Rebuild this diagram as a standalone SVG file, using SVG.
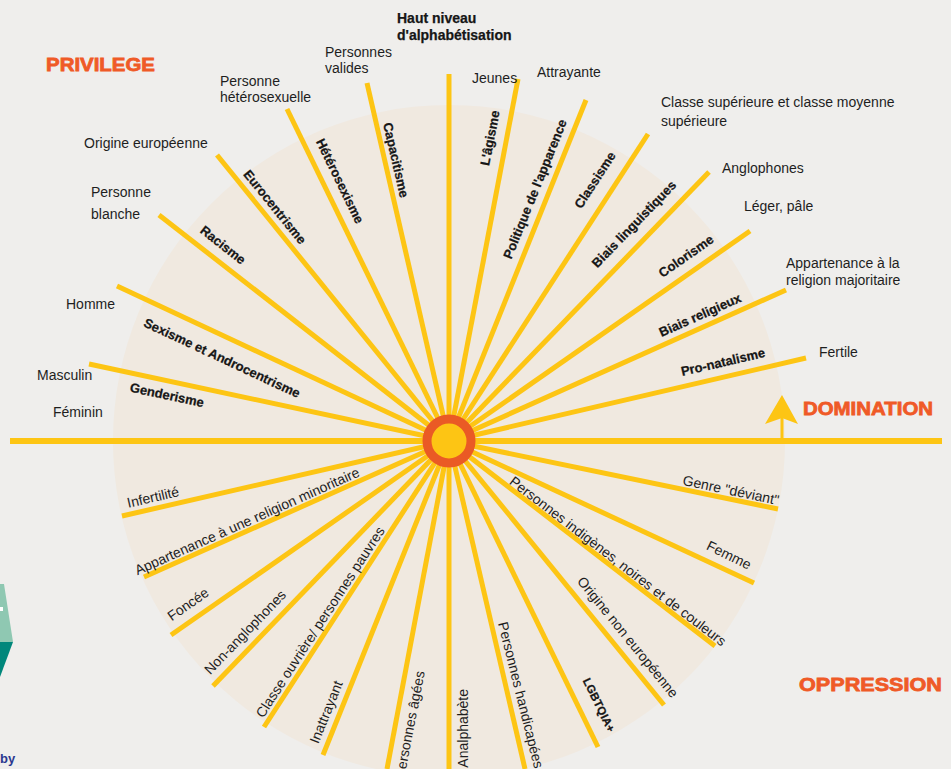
<svg xmlns="http://www.w3.org/2000/svg" width="951" height="769" viewBox="0 0 951 769">
<style>
.ray{stroke:#fdc514;stroke-width:5;stroke-linecap:butt;fill:none}
.axis{stroke:#fdc514;stroke-width:6;fill:none}
.b{font-family:"Liberation Sans",Arial,sans-serif;font-weight:bold;font-size:13px;fill:#161616;stroke:#161616;stroke-width:0.25;text-anchor:middle;dominant-baseline:central}
.r{font-family:"Liberation Sans",Arial,sans-serif;font-size:14px;fill:#1e1e1e;text-anchor:middle;dominant-baseline:central}
.o{font-family:"Liberation Sans",Arial,sans-serif;font-size:14px;fill:#1e1e1e}
.ob{font-family:"Liberation Sans",Arial,sans-serif;font-size:14px;font-weight:bold;fill:#161616;stroke:#161616;stroke-width:0.25}
.h{font-family:"Liberation Sans",Arial,sans-serif;font-size:19px;font-weight:900;fill:#ef5a27;stroke:#ef5a27;stroke-width:0.8}
</style>
<rect x="0" y="0" width="951" height="769" fill="#efeeec"/>
<circle cx="449" cy="441" r="336" fill="#f0e9e0"/>

<g id="decoration">
<polygon points="0,584 4,584 13,642 0,642" fill="#8fc8b2"/>
<polygon points="0,642 13,642 0,677" fill="#00877b"/>
<rect x="0" y="607" width="3" height="4" fill="#ffffff"/>
<text x="0" y="763" font-family="Liberation Sans, Arial, sans-serif" font-size="13" font-weight="bold" fill="#2b3990">by</text>
</g>

<g id="connectors">
<line class="axis" x1="10" y1="441" x2="942" y2="441"/>
<line class="ray" x1="449" y1="441" x2="449" y2="74"/>
<line class="ray" x1="449" y1="441" x2="449" y2="769"/>
<line class="ray" x1="449" y1="441" x2="89" y2="364"/>
<line class="ray" x1="449" y1="441" x2="117" y2="286"/>
<line class="ray" x1="449" y1="441" x2="159" y2="215"/>
<line class="ray" x1="449" y1="441" x2="217" y2="155"/>
<line class="ray" x1="449" y1="441" x2="287" y2="109"/>
<line class="ray" x1="449" y1="441" x2="367" y2="83"/>
<line class="ray" x1="449" y1="441" x2="518" y2="79"/>
<line class="ray" x1="449" y1="441" x2="586" y2="100"/>
<line class="ray" x1="449" y1="441" x2="648" y2="134"/>
<line class="ray" x1="449" y1="441" x2="709" y2="172"/>
<line class="ray" x1="449" y1="441" x2="750" y2="231"/>
<line class="ray" x1="449" y1="441" x2="786" y2="290"/>
<line class="ray" x1="449" y1="441" x2="806" y2="358"/>
<line class="ray" x1="449" y1="441" x2="122" y2="516"/>
<line class="ray" x1="449" y1="441" x2="144" y2="577"/>
<line class="ray" x1="449" y1="441" x2="171" y2="635"/>
<line class="ray" x1="449" y1="441" x2="213" y2="686"/>
<line class="ray" x1="449" y1="441" x2="264" y2="727"/>
<line class="ray" x1="449" y1="441" x2="323" y2="755"/>
<line class="ray" x1="449" y1="441" x2="387" y2="769"/>
<line class="ray" x1="449" y1="441" x2="525" y2="769"/>
<line class="ray" x1="449" y1="441" x2="598" y2="747"/>
<line class="ray" x1="449" y1="441" x2="664" y2="705"/>
<line class="ray" x1="449" y1="441" x2="715" y2="646"/>
<line class="ray" x1="449" y1="441" x2="754" y2="583"/>
<line class="ray" x1="449" y1="441" x2="778" y2="509"/>
<line x1="782" y1="441" x2="782" y2="412" stroke="#fdc514" stroke-width="3"/>
<polygon points="782,395 798,424 782,418 765,424" fill="#fdc514"/>
</g>

<g id="sun">
<circle cx="449" cy="441" r="22" fill="#fdc514" stroke="#ea5a25" stroke-width="9"/>
</g>

<g id="headings">
<text class="h" x="46" y="71" textLength="109" lengthAdjust="spacingAndGlyphs">PRIVILEGE</text>
<text class="h" x="803" y="415" textLength="130" lengthAdjust="spacingAndGlyphs">DOMINATION</text>
<text class="h" x="799" y="691" textLength="143" lengthAdjust="spacingAndGlyphs">OPPRESSION</text>
</g>

<g id="privilege-labels">
<text class="ob" x="397" y="23">Haut niveau</text>
<text class="ob" x="397" y="40">d'alphabétisation</text>
<text class="o" x="325" y="57">Personnes</text>
<text class="o" x="325" y="73">valides</text>
<text class="o" x="472" y="83">Jeunes</text>
<text class="o" x="537" y="77">Attrayante</text>
<text class="o" x="220" y="86">Personne</text>
<text class="o" x="220" y="102">hétérosexuelle</text>
<text class="o" x="84" y="148">Origine européenne</text>
<text class="o" x="91" y="197">Personne</text>
<text class="o" x="91" y="219">blanche</text>
<text class="o" x="66" y="309">Homme</text>
<text class="o" x="37" y="380">Masculin</text>
<text class="o" x="53" y="417">Féminin</text>
<text class="o" x="661" y="107">Classe supérieure et classe moyenne</text>
<text class="o" x="661" y="126">supérieure</text>
<text class="o" x="722" y="173">Anglophones</text>
<text class="o" x="744" y="211">Léger, pâle</text>
<text class="o" x="786" y="268">Appartenance à la</text>
<text class="o" x="786" y="285">religion majoritaire</text>
<text class="o" x="819" y="357">Fertile</text>
</g>

<g id="system-labels">
<text class="b" transform="translate(167,395) rotate(12)">Genderisme</text>
<text class="b" transform="translate(222,358) rotate(25)">Sexisme et Androcentrisme</text>
<text class="b" transform="translate(223,245) rotate(38)">Racisme</text>
<text class="b" transform="translate(275,207) rotate(51)">Eurocentrisme</text>
<text class="b" transform="translate(340,181) rotate(64)">Hétérosexisme</text>
<text class="b" transform="translate(396,160) rotate(77)">Capacitisme</text>
<text class="b" transform="translate(490,138) rotate(-79)">L'âgisme</text>
<text class="b" transform="translate(535,189) rotate(-68)">Politique de l'apparence</text>
<text class="b" transform="translate(595,180) rotate(-57)">Classisme</text>
<text class="b" transform="translate(634,224) rotate(-46)">Biais linguistiques</text>
<text class="b" transform="translate(686,256) rotate(-35)">Colorisme</text>
<text class="b" transform="translate(700,315) rotate(-24)">Biais religieux</text>
<text class="b" transform="translate(723,362) rotate(-13)">Pro-natalisme</text>
</g>

<g id="oppression-labels">
<text class="r" transform="translate(153,497) rotate(-13)">Infertilité</text>
<text class="r" transform="translate(247,521) rotate(-24)">Appartenance à une religion minoritaire</text>
<text class="r" transform="translate(188,604) rotate(-35)">Foncée</text>
<text class="r" transform="translate(245,632) rotate(-46)">Non-anglophones</text>
<text class="r" transform="translate(320,622) rotate(-57)">Classe ouvrière/ personnes pauvres</text>
<text class="r" transform="translate(326,712) rotate(-68)">Inattrayant</text>
<text class="r" style="text-anchor:end" transform="translate(420,671) rotate(-79)">Personnes âgées</text>
<text class="r" style="text-anchor:end" transform="translate(463,689) rotate(-90)">Analphabète</text>
<text class="r" transform="translate(521,695) rotate(76)">Personnes handicapées</text>
<text class="b" style="font-size:11.5px" transform="translate(599,705) rotate(64)">LGBTQIA+</text>
<text class="r" transform="translate(628,637) rotate(51)">Origine non européenne</text>
<text class="r" transform="translate(618,561) rotate(37.5)">Personnes indigènes, noires et de couleurs</text>
<text class="r" transform="translate(729,555) rotate(26)">Femme</text>
<text class="r" transform="translate(731,490) rotate(12)">Genre "déviant"</text>
</g>
</svg>
